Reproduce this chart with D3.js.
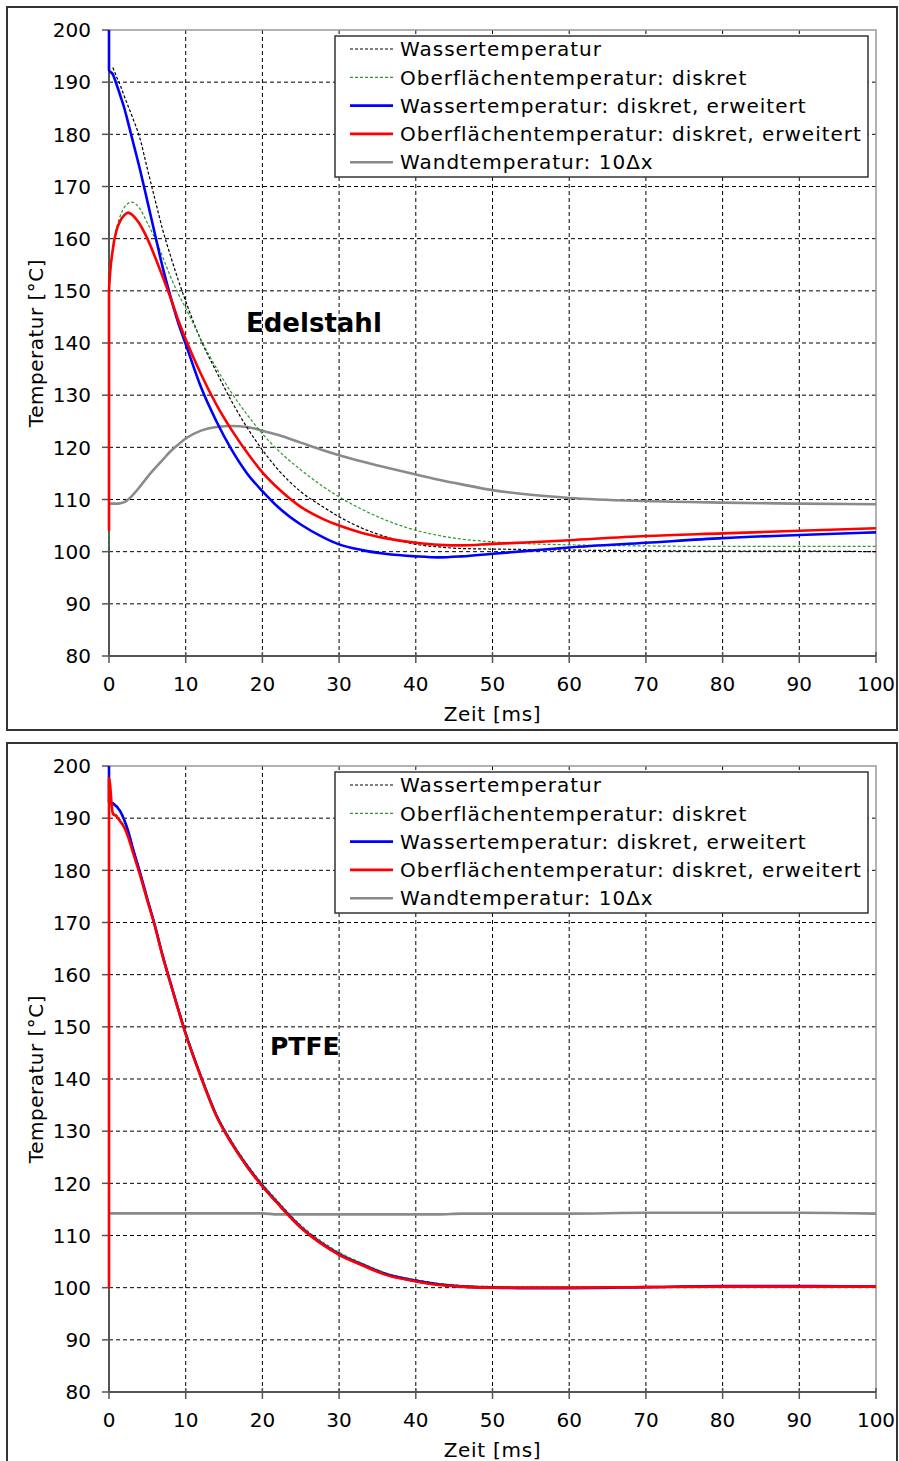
<!DOCTYPE html>
<html>
<head>
<meta charset="utf-8">
<script src="https://cdn.jsdelivr.net/npm/d3@7"></script>
<style>
  body { margin: 0; background: #fff; }
  svg { display: block; }
  text { font-family: "DejaVu Sans", Verdana, sans-serif; fill: #000; }
</style>
</head>
<body>
<svg id="chart" width="899" height="1461"></svg>
<script>
// Time grid [ms]; the doubled 0 lets a series jump vertically at t = 0
const zeit = [0, 0, 0.5, 1, 1.5, 2, 2.5, 3, 4, 5, 6, 7, 8, 9, 10, 12, 14, 16, 18, 20,
              22, 25, 28, 30, 33, 36, 40, 43, 46, 50, 55, 60, 70, 80, 90, 100];

// Edelstahl (stainless steel) – temperatures [°C]
const edelWasser = [null, null, 192.8, 191.0, 189.3, 187.3, 185.4, 183.5, 179.4, 173.4, 167.5, 161.7, 156.8, 152.2, 148.0, 140.5, 134.5, 128.8, 123.8, 119.5,
                    115.8, 111.5, 108.5, 106.7, 104.5, 102.9, 101.4, 100.9, 100.6, 100.5, 100.4, 100.3, 100.2, 100.1, 100.1, 100.0];
const edelOberflaeche = [101.0, 150.0, 157.5, 162.0, 164.5, 166.0, 166.8, 167.0, 165.8, 163.0, 160.0, 156.5, 152.8, 149.5, 146.7, 140.6, 135.2, 130.4, 126.3, 122.6,
                         119.5, 115.7, 112.4, 110.5, 108.1, 106.1, 104.1, 103.1, 102.4, 101.9, 101.5, 101.3, 101.1, 101.0, 101.0, 101.0];
const edelWasserErw = [200.0, 192.3, 191.5, 189.5, 187.3, 185.0, 182.2, 179.3, 173.5, 167.2, 160.8, 154.5, 149.0, 144.0, 139.8, 131.5, 125.0, 119.5, 115.0, 111.6,
                       108.6, 105.2, 102.7, 101.4, 100.3, 99.6, 99.1, 98.9, 99.1, 99.6, 100.2, 100.8, 101.7, 102.6, 103.2, 103.7];
const edelOberflaecheErw = [104.0, 150.0, 158.0, 161.7, 163.5, 164.5, 165.0, 164.6, 162.8, 160.0, 156.5, 152.7, 148.8, 144.5, 140.7, 134.0, 128.2, 123.3, 119.0, 115.2,
                            112.2, 108.6, 106.2, 105.0, 103.6, 102.6, 101.7, 101.3, 101.2, 101.5, 101.8, 102.2, 103.0, 103.5, 104.0, 104.5];
const edelWand = [109.2, 109.2, 109.2, 109.2, 109.3, 109.5, 110.0, 110.7, 112.4, 114.3, 116.0, 117.6, 119.2, 120.5, 121.7, 123.2, 123.9, 124.1, 123.9, 123.2,
                  122.4, 120.9, 119.4, 118.5, 117.3, 116.2, 114.8, 113.8, 112.9, 111.8, 110.9, 110.3, 109.7, 109.4, 109.2, 109.1];

// PTFE – temperatures [°C]
const ptfeWasser = [null, null, 193.0, 192.4, 191.4, 189.8, 187.7, 185.0, 180.0, 174.7, 169.5, 163.8, 158.7, 153.7, 148.9, 140.6, 133.2, 127.9, 123.5, 119.7,
                    116.4, 111.8, 108.4, 106.6, 104.6, 102.8, 101.5, 100.8, 100.4, 100.2, 100.1, 100.1, 100.2, 100.2, 100.3, 100.3];
const ptfeOberflaeche = [100.0, 191.5, 191.2, 190.6, 189.6, 188.5, 186.7, 184.3, 179.6, 174.5, 169.5, 164.0, 158.9, 153.9, 149.1, 140.8, 133.4, 128.1, 123.7, 119.9,
                         116.6, 112.0, 108.6, 106.8, 104.7, 102.9, 101.5, 100.8, 100.4, 100.2, 100.1, 100.1, 100.2, 100.2, 100.3, 100.3];
const ptfeWasserErw = [200.0, 193.0, 192.8, 192.2, 191.2, 189.6, 187.5, 184.8, 179.8, 174.5, 169.3, 163.6, 158.5, 153.5, 148.7, 140.4, 133.0, 127.7, 123.3, 119.5,
                       116.2, 111.6, 108.2, 106.4, 104.4, 102.6, 101.3, 100.6, 100.2, 100.0, 99.9, 99.9, 100.1, 100.3, 100.3, 100.2];
const ptfeOberflaecheErw = [100.0, 197.7, 190.9, 190.3, 189.3, 188.2, 186.4, 184.0, 179.3, 174.2, 169.2, 163.5, 158.4, 153.4, 148.6, 140.3, 132.9, 127.6, 123.2, 119.4,
                            116.1, 111.5, 108.1, 106.3, 104.3, 102.5, 101.2, 100.5, 100.2, 100.0, 100.0, 100.0, 100.1, 100.2, 100.2, 100.2];
const ptfeWand = [114.25, 114.25, 114.25, 114.25, 114.25, 114.25, 114.25, 114.25, 114.25, 114.25, 114.25, 114.25, 114.25, 114.25, 114.25, 114.25, 114.25, 114.25, 114.25, 114.25,
                  114.05, 114.05, 114.05, 114.05, 114.05, 114.05, 114.05, 114.05, 114.2, 114.2, 114.2, 114.2, 114.35, 114.35, 114.35, 114.2];

// Axes
const xTicks = [0, 10, 20, 30, 40, 50, 60, 70, 80, 90, 100];
const yTicks = [80, 90, 100, 110, 120, 130, 140, 150, 160, 170, 180, 190, 200];
const xTitle = "Zeit [ms]";
const yTitle = "Temperatur [°C]";

// Legend entries (same order for both panels)
const legendLabels = [
  "Wassertemperatur",
  "Oberflächentemperatur: diskret",
  "Wassertemperatur: diskret, erweitert",
  "Oberflächentemperatur: diskret, erweitert",
  "Wandtemperatur: 10Δx"
];

// Line styles per legend entry
const styles = [
  { color: "#000000", width: 1.2, dash: "3,2" },
  { color: "#2a9a2a", width: 1.2, dash: "3,2" },
  { color: "#0000ff", width: 2.6, dash: null },
  { color: "#ff0000", width: 2.6, dash: null },
  { color: "#8a8a8a", width: 2.6, dash: null }
];

const panels = [
  { frameY: 7, frameH: 723, top: 30, bottom: 656, label: "Edelstahl", labelX: 246, labelY: 332, labelSize: 26,
    series: [edelWasser, edelOberflaeche, edelWasserErw, edelOberflaecheErw, edelWand] },
  { frameY: 743, frameH: 740, top: 766, bottom: 1392, label: "PTFE", labelX: 270, labelY: 1055, labelSize: 25,
    series: [ptfeWasser, ptfeOberflaeche, ptfeWasserErw, ptfeOberflaecheErw, ptfeWand] }
];

const svg = d3.select("#chart");
const left = 109, right = 876;
// draw order: wall, dotted, blue, red
const drawOrder = [4, 0, 1, 2, 3];

panels.forEach(p => {
  const g = svg.append("g");

  g.append("rect")
    .attr("x", 7).attr("y", p.frameY)
    .attr("width", 890).attr("height", p.frameH)
    .attr("fill", "#fff").attr("stroke", "#333").attr("stroke-width", 2);

  const x = d3.scaleLinear().domain([0, 100]).range([left, right]);
  const y = d3.scaleLinear().domain([80, 200]).range([p.bottom, p.top]);

  // grid
  g.append("g").selectAll("line").data(xTicks.slice(1, -1)).join("line")
    .attr("x1", d => x(d)).attr("x2", d => x(d))
    .attr("y1", p.top).attr("y2", p.bottom)
    .attr("stroke", "#000").attr("stroke-width", 1).attr("stroke-dasharray", "4,3");
  g.append("g").selectAll("line").data(yTicks.slice(1, -1)).join("line")
    .attr("x1", left).attr("x2", right)
    .attr("y1", d => y(d)).attr("y2", d => y(d))
    .attr("stroke", "#000").attr("stroke-width", 1).attr("stroke-dasharray", "4,3");

  // plot border (top / right)
  g.append("path")
    .attr("d", `M${left},${y(200)}H${x(100)}V${y(80)}`)
    .attr("fill", "none").attr("stroke", "#999").attr("stroke-width", 1.5);

  // axes
  const axisColor = "#555";
  g.append("line").attr("x1", left).attr("x2", left).attr("y1", p.top).attr("y2", p.bottom)
    .attr("stroke", axisColor).attr("stroke-width", 2);
  g.append("line").attr("x1", left).attr("x2", right).attr("y1", p.bottom).attr("y2", p.bottom)
    .attr("stroke", axisColor).attr("stroke-width", 2);

  g.append("g").selectAll("line").data(yTicks).join("line")
    .attr("x1", left - 7).attr("x2", left)
    .attr("y1", d => y(d)).attr("y2", d => y(d))
    .attr("stroke", axisColor).attr("stroke-width", 1.5);
  g.append("g").selectAll("line").data(xTicks).join("line")
    .attr("x1", d => x(d)).attr("x2", d => x(d))
    .attr("y1", p.bottom - 4).attr("y2", p.bottom + 7)
    .attr("stroke", axisColor).attr("stroke-width", 1.5);

  // curves (drawn over the axes, as the vertical jumps at t = 0 show)
  const clipId = "clip" + p.top;
  g.append("clipPath").attr("id", clipId).append("rect")
    .attr("x", left - 2).attr("y", p.top - 1).attr("width", right - left + 3).attr("height", p.bottom - p.top + 2);
  const curves = g.append("g").attr("clip-path", `url(#${clipId})`);
  drawOrder.forEach(i => {
    const vals = p.series[i];
    const line = d3.line()
      .defined((d, k) => vals[k] != null)
      .x((d, k) => x(zeit[k]))
      .y((d, k) => y(vals[k]))
      .curve(d3.curveMonotoneX);
    curves.append("path")
      .attr("d", line(vals))
      .attr("fill", "none")
      .attr("stroke", styles[i].color)
      .attr("stroke-width", styles[i].width)
      .attr("stroke-dasharray", styles[i].dash)
      .attr("stroke-linejoin", "round");
  });

  g.append("g").selectAll("text").data(yTicks).join("text")
    .attr("x", 91).attr("y", d => y(d)).attr("dy", "0.36em")
    .attr("text-anchor", "end").attr("font-size", 20)
    .text(d => d);
  g.append("g").selectAll("text").data(xTicks).join("text")
    .attr("x", d => x(d)).attr("y", p.bottom + 35)
    .attr("text-anchor", "middle").attr("font-size", 20)
    .text(d => d);

  g.append("text")
    .attr("x", (left + right) / 2).attr("y", p.bottom + 65)
    .attr("text-anchor", "middle").attr("font-size", 20)
    .attr("letter-spacing", 0.7)
    .text(xTitle);
  g.append("text")
    .attr("transform", `translate(43,${(p.top + p.bottom) / 2}) rotate(-90)`)
    .attr("text-anchor", "middle").attr("font-size", 20)
    .attr("letter-spacing", 0.5)
    .text(yTitle);

  // material label
  g.append("text")
    .attr("x", p.labelX).attr("y", p.labelY)
    .attr("font-size", p.labelSize).attr("font-weight", "bold")
    .text(p.label);

  // legend
  const lg = g.append("g").attr("transform", `translate(335,${p.top + 6})`);
  lg.append("rect").attr("width", 533).attr("height", 141)
    .attr("fill", "#fff").attr("stroke", "#333").attr("stroke-width", 1.5);
  legendLabels.forEach((lab, i) => {
    const cy = 13 + i * 28.3;
    lg.append("line").attr("x1", 15).attr("x2", 58).attr("y1", cy).attr("y2", cy)
      .attr("stroke", styles[i].color).attr("stroke-width", styles[i].width)
      .attr("stroke-dasharray", styles[i].dash);
    lg.append("text").attr("x", 65).attr("y", cy).attr("dy", "0.36em")
      .attr("font-size", 20).attr("letter-spacing", 1.0).text(lab);
  });
});
</script>
</body>
</html>
